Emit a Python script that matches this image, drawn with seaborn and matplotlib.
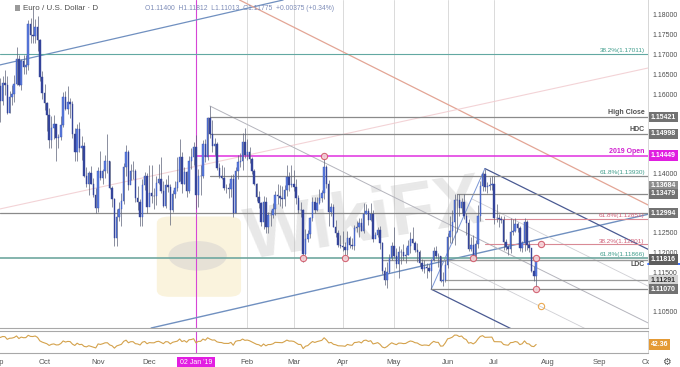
import numpy as np
import pandas as pd
import matplotlib
matplotlib.use("Agg")
import matplotlib.pyplot as plt
import matplotlib.transforms as mtrans
from matplotlib.patches import Rectangle, FancyBboxPatch, Circle
import seaborn as sns

# ---------------- data (EUR/USD daily) ----------------
first_open = 1.1435
c_aug18 = [1.1410,1.1343,1.1344,1.1377,1.1437,1.1480,1.1571,1.1597,1.1540,1.1623,1.1677,1.1702,1.1707,1.1668,1.1600]
h_aug18 = [1.1445,1.1432,1.1360,1.1396,1.1446,1.1484,1.1573,1.1623,1.1598,1.1640,1.1685,1.1734,1.1710,1.1719,1.1690]
l_aug18 = [1.1365,1.1332,1.1301,1.1337,1.1373,1.1410,1.1474,1.1566,1.1528,1.1533,1.1595,1.1663,1.1643,1.1654,1.1590]
c_sep18 = [1.1620,1.1582,1.1627,1.1624,1.1552,1.1594,1.1600,1.1626,1.1690,1.1623,1.1685,1.1668,1.1673,1.1778,1.1750,1.1747,1.1770,1.1738,1.1644,1.1604]
h_sep18 = [1.1625,1.1640,1.1645,1.1660,1.1645,1.1608,1.1624,1.1648,1.1720,1.1700,1.1690,1.1700,1.1698,1.1788,1.1792,1.1815,1.1790,1.1797,1.1740,1.1658]
l_sep18 = [1.1590,1.1530,1.1572,1.1597,1.1549,1.1553,1.1573,1.1579,1.1622,1.1620,1.1610,1.1652,1.1650,1.1660,1.1730,1.1730,1.1730,1.1710,1.1632,1.1587]
c_oct18 = [1.1578,1.1548,1.1484,1.1514,1.1525,1.1489,1.1491,1.1523,1.1594,1.1562,1.1580,1.1575,1.1500,1.1454,1.1512,1.1463,1.1470,1.1393,1.1373,1.1400,1.1372,1.1346,1.1311]
h_oct18 = [1.1625,1.1580,1.1565,1.1544,1.1548,1.1517,1.1499,1.1546,1.1606,1.1609,1.1621,1.1590,1.1582,1.1515,1.1525,1.1530,1.1493,1.1480,1.1415,1.1406,1.1418,1.1387,1.1363]
l_oct18 = [1.1560,1.1506,1.1465,1.1464,1.1487,1.1432,1.1465,1.1483,1.1517,1.1560,1.1549,1.1540,1.1490,1.1430,1.1432,1.1455,1.1434,1.1390,1.1366,1.1344,1.1372,1.1339,1.1300]
c_nov18 = [1.1406,1.1388,1.1406,1.1430,1.1431,1.1364,1.1335,1.1237,1.1290,1.1310,1.1330,1.1416,1.1455,1.1370,1.1405,1.1405,1.1338,1.1327,1.1290,1.1370,1.1393,1.1315]
h_nov18 = [1.1415,1.1456,1.1410,1.1446,1.1500,1.1432,1.1368,1.1338,1.1309,1.1327,1.1350,1.1426,1.1472,1.1458,1.1424,1.1431,1.1411,1.1367,1.1334,1.1386,1.1402,1.1400]
l_nov18 = [1.1303,1.1382,1.1372,1.1388,1.1400,1.1360,1.1316,1.1216,1.1217,1.1280,1.1268,1.1322,1.1393,1.1358,1.1382,1.1386,1.1327,1.1307,1.1267,1.1267,1.1358,1.1300]
c_dec18 = [1.1350,1.1343,1.1342,1.1375,1.1385,1.1355,1.1318,1.1370,1.1365,1.1306,1.1347,1.1362,1.1377,1.1440,1.1372,1.1402,1.1354,1.1432,1.1440,1.1467]
h_dec18 = [1.1420,1.1420,1.1362,1.1394,1.1424,1.1442,1.1380,1.1385,1.1395,1.1373,1.1359,1.1380,1.1440,1.1486,1.1454,1.1415,1.1407,1.1443,1.1465,1.1478]
l_dec18 = [1.1320,1.1324,1.1310,1.1320,1.1373,1.1350,1.1316,1.1313,1.1353,1.1269,1.1301,1.1338,1.1355,1.1380,1.1350,1.1373,1.1341,1.1349,1.1411,1.1422]
c_jan19 = [1.1344,1.1393,1.1394,1.1475,1.1440,1.1540,1.1500,1.1468,1.1473,1.1414,1.1394,1.1389,1.1363,1.1362,1.1361,1.1385,1.1300,1.1406,1.1428,1.1431,1.1480,1.1446]
h_jan19 = [1.1497,1.1410,1.1420,1.1484,1.1487,1.1542,1.1570,1.1535,1.1490,1.1480,1.1426,1.1421,1.1415,1.1374,1.1375,1.1395,1.1398,1.1416,1.1446,1.1450,1.1502,1.1514]
l_jan19 = [1.1310,1.1314,1.1346,1.1389,1.1429,1.1434,1.1489,1.1453,1.1446,1.1408,1.1387,1.1386,1.1359,1.1349,1.1337,1.1339,1.1290,1.1300,1.1386,1.1417,1.1409,1.1438]
c_feb19 = [1.1455,1.1437,1.1405,1.1374,1.1340,1.1325,1.1277,1.1327,1.1265,1.1295,1.1295,1.1310,1.1345,1.1342,1.1338,1.1336,1.1358,1.1390,1.1371,1.1372]
h_feb19 = [1.1487,1.1466,1.1441,1.1411,1.1375,1.1355,1.1328,1.1342,1.1340,1.1303,1.1307,1.1324,1.1355,1.1372,1.1371,1.1367,1.1371,1.1420,1.1404,1.1420]
l_feb19 = [1.1434,1.1427,1.1398,1.1371,1.1329,1.1312,1.1266,1.1258,1.1250,1.1249,1.1268,1.1286,1.1295,1.1322,1.1317,1.1312,1.1318,1.1343,1.1356,1.1365]
c_mar19 = [1.1365,1.1338,1.1307,1.1306,1.1195,1.1235,1.1246,1.1287,1.1327,1.1306,1.1325,1.1337,1.1351,1.1415,1.1373,1.1303,1.1314,1.1263,1.1249,1.1220,1.1217]
h_mar19 = [1.1408,1.1385,1.1345,1.1327,1.1310,1.1258,1.1257,1.1290,1.1340,1.1339,1.1339,1.1361,1.1357,1.1448,1.1421,1.1383,1.1326,1.1323,1.1283,1.1256,1.1244]
l_mar19 = [1.1355,1.1322,1.1300,1.1289,1.1176,1.1193,1.1226,1.1237,1.1279,1.1300,1.1304,1.1322,1.1327,1.1335,1.1363,1.1268,1.1293,1.1263,1.1240,1.1214,1.1212]
c_apr19 = [1.1214,1.1205,1.1236,1.1220,1.1216,1.1262,1.1265,1.1275,1.1254,1.1297,1.1305,1.1283,1.1296,1.1235,1.1245,1.1257,1.1223,1.1154,1.1130,1.1150,1.1185,1.1216]
h_apr19 = [1.1255,1.1227,1.1255,1.1242,1.1236,1.1269,1.1280,1.1287,1.1288,1.1324,1.1323,1.1312,1.1324,1.1307,1.1252,1.1264,1.1268,1.1227,1.1162,1.1175,1.1196,1.1226]
l_apr19 = [1.1203,1.1184,1.1193,1.1212,1.1208,1.1207,1.1251,1.1240,1.1254,1.1250,1.1296,1.1270,1.1280,1.1226,1.1238,1.1240,1.1209,1.1146,1.1118,1.1111,1.1147,1.1180]
c_may19 = [1.1192,1.1172,1.1200,1.1200,1.1190,1.1193,1.1215,1.1233,1.1225,1.1205,1.1200,1.1174,1.1157,1.1162,1.1160,1.1152,1.1180,1.1204,1.1191,1.1190,1.1128,1.1130,1.1169]
h_may19 = [1.1265,1.1210,1.1215,1.1208,1.1222,1.1214,1.1232,1.1251,1.1264,1.1230,1.1225,1.1207,1.1183,1.1180,1.1173,1.1172,1.1184,1.1214,1.1215,1.1199,1.1192,1.1150,1.1181]
l_may19 = [1.1185,1.1160,1.1135,1.1170,1.1180,1.1174,1.1194,1.1198,1.1223,1.1201,1.1176,1.1165,1.1153,1.1149,1.1135,1.1150,1.1107,1.1178,1.1185,1.1162,1.1124,1.1116,1.1126]
c_jun19 = [1.1240,1.1254,1.1277,1.1333,1.1332,1.1313,1.1327,1.1292,1.1275,1.1209,1.1220,1.1192,1.1221,1.1291,1.1369,1.1398,1.1366,1.1368,1.1371,1.1373]
h_jun19 = [1.1250,1.1292,1.1307,1.1347,1.1348,1.1347,1.1338,1.1348,1.1299,1.1285,1.1240,1.1243,1.1231,1.1320,1.1380,1.1404,1.1412,1.1379,1.1390,1.1394]
l_jun19 = [1.1160,1.1225,1.1225,1.1219,1.1252,1.1291,1.1299,1.1285,1.1245,1.1203,1.1203,1.1181,1.1184,1.1211,1.1280,1.1355,1.1356,1.1350,1.1357,1.1357]
c_jul19 = [1.1286,1.1286,1.1284,1.1282,1.1226,1.1214,1.1208,1.1252,1.1255,1.1271,1.1262,1.1211,1.1225,1.1277,1.1220,1.1210,1.1152,1.1140,1.11775]
h_jul19 = [1.1393,1.1322,1.1297,1.1291,1.1292,1.1234,1.1218,1.1286,1.1285,1.1287,1.1276,1.1268,1.1230,1.1286,1.1282,1.1229,1.1212,1.1165,1.11812]
l_jul19 = [1.1273,1.1276,1.1265,1.1275,1.1207,1.1207,1.1193,1.1199,1.1245,1.1251,1.1252,1.1203,1.1201,1.1203,1.1207,1.1200,1.1150,1.1128,1.11013]

# horizontal levels: (price, start date or None, colour, width, label, label colour, label below?)
levels = [
    (1.17011, None,         "#62a8a2", 0.8, "38.2%(1.17011)", "#3f9d8c", False),
    (1.15421, "2019-01-10", "#8a8a8a", 0.9, "High Close",     "#505050", False),
    (1.14998, "2019-01-10", "#8a8a8a", 0.9, "HDC",            "#505050", False),
    (1.14449, "2019-01-02", "#e030e0", 1.1, "2019 Open",      "#d020d0", False),
    (1.13930, "2019-01-10", "#8a8a8a", 0.9, "61.8%(1.13930)", "#3f9d8c", False),
    (1.13479, "2019-06-07", "#8a8a8a", 0.9, "",               "#505050", False),
    (1.12994, None,         "#8a8a8a", 0.9, "",               "#505050", False),
    (1.12851, "2019-06-25", "#d98a95", 0.8, "61.8%(1.12851)", "#d06078", False),
    (1.12201, "2019-06-25", "#d98a95", 0.8, "38.2%(1.12201)", "#d06078", False),
    (1.11866, None,         "#6fa8a0", 1.2, "61.8%(1.11866)", "#3f9d8c", False),
    (1.11816, "2019-04-24", "#9a9a9a", 1.0, "LDC",            "#505050", True),
    (1.11291, "2019-05-31", "#9a9a9a", 0.9, "",               "#505050", False),
    (1.11070, "2019-05-23", "#8a8a8a", 0.9, "",               "#505050", False),
]
# right-hand price boxes: (price, text, colour, text colour)
price_boxes = [
    (1.15421, "1.15421", "#727272", "white"),
    (1.14998, "1.14998", "#727272", "white"),
    (1.14449, "1.14449", "#e01ee0", "white"),
    (1.13684, "1.13684", "#8c8c8c", "white"),
    (1.13479, "1.13479", "#727272", "white"),
    (1.12994, "1.12994", "#727272", "white"),
    (1.11816, "1.11816", "#5e5e5e", "white"),
    (1.11291, "1.11291", "#d4d4d4", "#333333"),
    (1.11070, "1.11070", "#727272", "white"),
]
price_ticks = [1.105, 1.115, 1.12, 1.125, 1.14, 1.16, 1.165, 1.17, 1.175, 1.18]
last_price_marker = 1.1170

# trend lines (date, price) anchors
asc_upper = [("2018-09-04", 1.1674), ("2019-02-21", 1.1836)]
asc_lower = [("2018-12-06", 1.1012), ("2019-09-30", 1.1295)]
desc_salmon = [("2019-01-28", 1.1840), ("2019-10-01", 1.1320)]
asc_faint = [("2018-09-04", 1.1310), ("2019-10-01", 1.1666)]
pitch_A = ("2019-01-10", 1.1570)
pitch_B = ("2019-06-25", 1.1412)
pitch_C = ("2019-05-23", 1.1107)

circles = [
    ("2019-03-07", 1.11866, "#d05a6a"), ("2019-04-02", 1.11866, "#d05a6a"),
    ("2019-06-18", 1.11866, "#d05a6a"), ("2019-07-25", 1.11866, "#d05a6a"),
    ("2019-07-25", 1.11070, "#d05a6a"), ("2019-07-29", 1.12201, "#d05a6a"),
    ("2019-07-29", 1.10650, "#e8a040"), ("2019-03-20", 1.14449, "#d05a6a"),
]
month_labels = [("2018-09-03", "Sep"), ("2018-10-01", "Oct"), ("2018-11-01", "Nov"),
                ("2018-12-03", "Dec"), ("2019-02-01", "Feb"), ("2019-03-01", "Mar"),
                ("2019-04-01", "Apr"), ("2019-05-01", "May"), ("2019-06-03", "Jun"),
                ("2019-07-01", "Jul"), ("2019-08-01", "Aug"), ("2019-09-02", "Sep"),
                ("2019-10-01", "Oct")]
grid_months = ["2019-02-01", "2019-03-01", "2019-04-01", "2019-05-01", "2019-06-03", "2019-07-01"]
jan2 = "2019-01-02"
rsi_label = "42.36"
header_title = "Euro / U.S. Dollar · D"
header_ohlc = "O1.11400  H1.11812  L1.11013  C1.11775  +0.00375 (+0.34%)"

# ---------------- assemble ----------------
closes = np.array(c_aug18 + c_sep18 + c_oct18 + c_nov18 + c_dec18 + c_jan19 + c_feb19 +
                  c_mar19 + c_apr19 + c_may19 + c_jun19 + c_jul19)
highs = np.array(h_aug18 + h_sep18 + h_oct18 + h_nov18 + h_dec18 + h_jan19 + h_feb19 +
                 h_mar19 + h_apr19 + h_may19 + h_jun19 + h_jul19)
lows = np.array(l_aug18 + l_sep18 + l_oct18 + l_nov18 + l_dec18 + l_jan19 + l_feb19 +
                l_mar19 + l_apr19 + l_may19 + l_jun19 + l_jul19)
opens = np.concatenate([[first_open], closes[:-1]])
N = len(closes)

alldates = pd.bdate_range("2018-08-13", "2019-10-31")
alldates = alldates[~alldates.isin(pd.to_datetime(["2018-12-25", "2019-01-01"]))]
pos = {d.strftime("%Y-%m-%d"): i for i, d in enumerate(alldates)}
idx = np.arange(N)
df = pd.DataFrame({"i": idx, "open": opens, "high": highs, "low": lows, "close": closes})

# RSI(14), Wilder
delta = np.diff(closes, prepend=np.nan)
gain = np.where(delta > 0, delta, 0.0)
loss = np.where(delta < 0, -delta, 0.0)
n = 14
ag = np.full(N, np.nan); al = np.full(N, np.nan)
ag[n] = gain[1:n + 1].mean(); al[n] = loss[1:n + 1].mean()
for k in range(n + 1, N):
    ag[k] = (ag[k - 1] * (n - 1) + gain[k]) / n
    al[k] = (al[k - 1] * (n - 1) + loss[k]) / n
df["rsi"] = 100 - 100 / (1 + ag / al)

# ---------------- draw ----------------
sns.set_theme(style="white")
plt.rcParams["font.family"] = ["Liberation Sans", "DejaVu Sans"]

W, H = 680, 367
fig = plt.figure(figsize=(6.8, 3.67), dpi=100)
fig.patch.set_facecolor("white")
ax = fig.add_axes([0, 1 - 328 / H, 648 / W, 328 / H])
axr = fig.add_axes([0, 1 - 353 / H, 648 / W, 22 / H])

XL = (15.9, 294.0)
YL = (1.10090, 1.18379)
ax.set_xlim(*XL); ax.set_ylim(*YL)
axr.set_xlim(*XL); axr.set_ylim(18, 80)

for a in (ax, axr):
    a.set_facecolor("white")
    for s in ("top", "left"):
        a.spines[s].set_visible(False)
    a.spines["right"].set_color("#d6d6d6"); a.spines["right"].set_linewidth(0.7)
    a.spines["bottom"].set_color("#a8a8a8"); a.spines["bottom"].set_linewidth(0.8)
    a.set_xticks([])
axr.spines["top"].set_visible(True)
axr.spines["top"].set_color("#a8a8a8"); axr.spines["top"].set_linewidth(0.8)
axr.set_yticks([])
ax.set_xlabel(""); ax.set_ylabel("")

# grid verticals
for d in grid_months:
    ax.axvline(pos[d], color="#dadada", lw=0.7, zorder=0)
ax.axvline(pos[jan2], color="#d646d6", lw=0.8, zorder=2)
axr.axvline(pos[jan2], color="#d646d6", lw=0.8, zorder=2)

# watermark
ax.add_patch(FancyBboxPatch((0.247, 0.10), 0.12, 0.235, boxstyle="round,pad=0.005,rounding_size=0.02",
                            transform=ax.transAxes, fc="#f6e6b4", ec="none", alpha=0.45, zorder=1))
ax.add_patch(Circle((0.305, 0.22), 0.045, transform=ax.transAxes, fc="#b8b8c8", ec="none",
                    alpha=0.3, zorder=1))
ax.text(0.563, 0.325, "WikiFX", transform=ax.transAxes, fontsize=52, fontweight="bold",
        color="#b5b5b5", alpha=0.3, ha="center", va="center", rotation=9, zorder=1)

# trend lines
def P(a):
    return pos[a[0]], a[1]

for pts, col, lw, al_ in [(asc_upper, "#7090c0", 0.9, 1.0), (asc_lower, "#7090c0", 1.0, 1.0),
                          (desc_salmon, "#e3a595", 0.9, 1.0), (asc_faint, "#f0c8cc", 0.8, 0.8)]:
    ax.axline(P(pts[0]), P(pts[1]), color=col, lw=lw, alpha=al_, zorder=2)

Ai, Ap = P(pitch_A); Bi, Bp = P(pitch_B); Ci, Cp = P(pitch_C)
Mi, Mp = (Bi + Ci) / 2, (Bp + Cp) / 2
slope = (Mp - Ap) / (Mi - Ai)
xr = XL[1]
ax.plot([Ai, xr], [Ap, Ap + slope * (xr - Ai)], color="#b4b4bc", lw=0.7, zorder=2)
for f, col, lw in [(0.0, "#4a5a92", 0.9), (1.0, "#4a5a92", 0.9), (0.25, "#cfcfd4", 0.6), (0.75, "#cfcfd4", 0.6)]:
    si = Bi + f * (Ci - Bi); sp = Bp + f * (Cp - Bp)
    ax.plot([si, xr], [sp, sp + slope * (xr - si)], color=col, lw=lw, zorder=2)
ax.plot([Bi, Ci], [Bp, Cp], color="#7a96d6", lw=0.7, zorder=2)

# horizontal levels and labels
blend = mtrans.blended_transform_factory(ax.transAxes, ax.transData)
for price, start, col, lw, lab, lcol, below in levels:
    x0 = XL[0] if start is None else pos[start]
    ax.plot([x0, XL[1]], [price, price], color=col, lw=lw, zorder=2)
    if lab:
        bold = lab in ("High Close", "HDC", "2019 Open", "LDC")
        ax.text(0.995, price + (-0.00025 if below else 0.00022), lab, transform=blend,
                ha="right", va="top" if below else "bottom", fontsize=4.6 if not bold else 5,
                color=lcol, fontweight="bold" if bold else "normal", zorder=6)

# candles
up = df["close"] >= df["open"]
ax.vlines(df["i"], df["low"], df["high"], color="#5c6278", lw=0.5, zorder=3)
body = (df["close"] - df["open"]).abs().clip(lower=0.00006)
bottom = df[["open", "close"]].min(axis=1)
ax.bar(df["i"][up], body[up], bottom=bottom[up], width=0.62, color="#5b7de0",
       edgecolor="#3550b0", lw=0.3, zorder=4)
ax.bar(df["i"][~up], body[~up], bottom=bottom[~up], width=0.62, color="#34449a",
       edgecolor="#34449a", lw=0.3, zorder=4)

# circles
for d, p, col in circles:
    ax.plot(pos[d], p, marker="o", ms=4.5, mfc="#f6d0d6" if col != "#e8a040" else "none",
            mec=col, mew=0.8, alpha=0.9, zorder=5, clip_on=False)

# right price axis
ax.yaxis.tick_right()
ax.set_yticks(price_ticks)
ax.set_yticklabels([f"{t:.5f}" for t in price_ticks])
ax.tick_params(axis="y", length=0, pad=3, labelsize=5, labelcolor="#4d4d4d")
ax.plot([1.0, 1.05], [last_price_marker, last_price_marker], transform=blend, clip_on=False,
        color="#2962ff", lw=1.3, zorder=6)
for price, txt, fc, tc in price_boxes:
    ax.text(1.0 + 3 / 648, price, txt, transform=blend, ha="left", va="center", fontsize=5,
            fontweight="bold", color=tc, clip_on=False, zorder=7,
            bbox=dict(boxstyle="square,pad=0.25", fc=fc, ec="none"))

# RSI
sns.lineplot(data=df, x="i", y="rsi", ax=axr, color="#d4a24c", lw=0.8)
axr.set_xlim(*XL); axr.set_ylim(18, 80)
axr.set_xlabel(""); axr.set_ylabel("")
axr.set_yticks([])
axr.text(1.0 + 3 / 648, df["rsi"].iloc[-1], rsi_label, transform=mtrans.blended_transform_factory(axr.transAxes, axr.transData),
         ha="left", va="center", fontsize=5, fontweight="bold", color="white", clip_on=False,
         bbox=dict(boxstyle="square,pad=0.25", fc="#e49a35", ec="none"))

# month labels
bt = mtrans.blended_transform_factory(axr.transData, axr.transAxes)
for d, lab in month_labels:
    axr.text(pos[d], -0.45, lab, transform=bt, ha="center", va="center", fontsize=5.5,
             color="#555555", clip_on=False)
axr.text(pos[jan2], -0.45, "02 Jan '19", transform=bt, ha="center", va="center", fontsize=5,
         color="white", clip_on=False, zorder=8,
         bbox=dict(boxstyle="square,pad=0.35", fc="#e21ee2", ec="none"))

fig.patches.append(Rectangle((649 / W, 0), 31 / W, 13 / H, transform=fig.transFigure,
                             fc="white", ec="none", zorder=5))
fig.text(666 / W, 1 - 362 / H, "⚙", fontsize=7, color="#555555", ha="center", va="center", zorder=6,
         family=["DejaVu Sans"])

# header
fig.patches.append(Rectangle((15 / W, 1 - 11 / H), 5 / W, 6 / H, transform=fig.transFigure,
                             fc="#9a9a9a", ec="none", zorder=5))
fig.text(23 / W, 1 - 8 / H, header_title, fontsize=5.8, color="#505050", va="center", zorder=6)
fig.text(145 / W, 1 - 8 / H, header_ohlc, fontsize=4.9, color="#7d8cb8", va="center", zorder=6)

fig.savefig("out.png", dpi=100, facecolor="white")
